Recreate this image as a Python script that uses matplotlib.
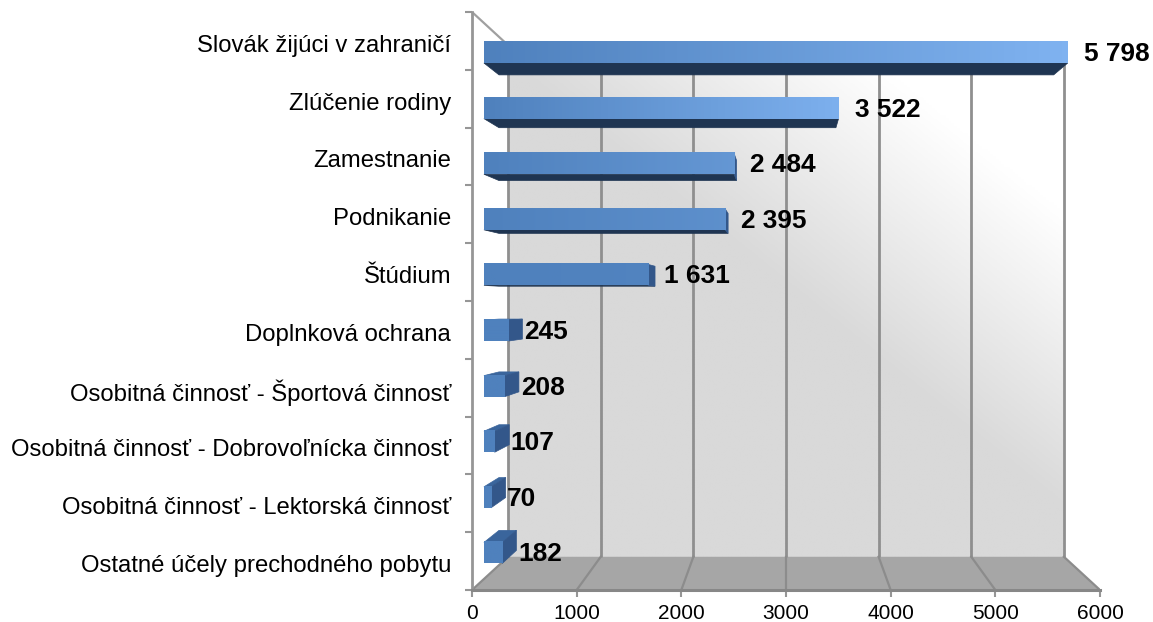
import matplotlib
matplotlib.use("Agg")
import matplotlib.pyplot as plt
from matplotlib.colors import LinearSegmentedColormap
from matplotlib.patches import Polygon
import numpy as np

plt.rcParams['font.family'] = ['Liberation Sans', 'DejaVu Sans']

kategorie = ['Slovák žijúci v zahraničí', 'Zlúčenie rodiny', 'Zamestnanie',
             'Podnikanie', 'Štúdium', 'Doplnková ochrana',
             'Osobitná činnosť - Športová činnosť',
             'Osobitná činnosť - Dobrovoľnícka činnosť',
             'Osobitná činnosť - Lektorská činnosť',
             'Ostatné účely prechodného pobytu']
hodnoty = [5798, 3522, 2484, 2395, 1631, 245, 208, 107, 70, 182]
popisky = ['5 798', '3 522', '2 484', '2 395', '1 631',
           '245', '208', '107', '70', '182']
osa_x = [0, 1000, 2000, 3000, 4000, 5000, 6000]

# how far each bar's gradient gets towards the light blue
svetlost = [1.0, 0.95, 0.45, 0.3, 0.05, 0, 0, 0, 0, 0]

W, H = 1153, 622
XMAX, NR = 6000, 10
S_STENA, S_PRED, S_ZAD = 0.885, 0.962, 0.914  # perspective scale of the planes
R0, R1 = 0.342, 0.72  # bar inside its row


def proj(v, r, s):
    # perspective towards the middle of the front plane
    return XMAX / 2 + (v - XMAX / 2) * s, NR / 2 + (r - NR / 2) * s


fig = plt.figure(figsize=(W / 100, H / 100), dpi=100)
ax = fig.add_axes([472 / W, 1 - 590 / H, 628 / W, 578 / H])

# back wall with diagonal gradient
x0, r0 = proj(0, 0, S_STENA)
x1, r1 = proj(XMAX, NR, S_STENA)
xx, yy = np.meshgrid(np.linspace(509, 1063, 200), np.linspace(44, 558, 200))
f = np.clip((xx - 530 - 1.238 * (yy - 80)) / 370, 0, 1)
sediva = LinearSegmentedColormap.from_list('stena', ['#d9d9d9', '#ffffff'])
ax.imshow(f, extent=(x0, x1, r1, r0), aspect='auto', cmap=sediva,
          vmin=0, vmax=1, zorder=1)

# floor
podlaha = [(0, NR), (XMAX, NR), proj(XMAX, NR, S_STENA), proj(0, NR, S_STENA)]
ax.add_patch(Polygon(podlaha, fc='#a6a6a6', ec='none', zorder=1))

# gridlines on wall and floor
for v in osa_x:
    bx, by = proj(v, 0, S_STENA)
    fx, fy = proj(v, NR, S_STENA)
    ax.plot([bx, fx], [by, fy], color='#8f8f8f', lw=2, zorder=2,
            solid_capstyle='butt')
    ax.plot([fx, v], [fy, NR], color='#8c8c8c', lw=1.6, zorder=2)
ax.plot(*zip((0, 0), proj(0, 0, S_STENA)), color='#a0a0a0', lw=1.6, zorder=2)

# bars
modra = LinearSegmentedColormap.from_list('bar', ['#4f81bd', '#7fb2f0'])
for i, v in enumerate(hodnoty):
    ta, tb = i + R0, i + R1
    a = proj(0, ta, S_PRED)
    b = proj(v, tb, S_PRED)
    a2 = proj(0, ta, S_ZAD)
    b2 = proj(v, tb, S_ZAD)
    if tb < NR / 2:
        ax.add_patch(Polygon([(a[0], b[1]), b, b2, (a2[0], b2[1])],
                             fc='#1f3552', ec='#1f3552', lw=0.5, zorder=3))
    if ta > NR / 2:
        ax.add_patch(Polygon([a, (b[0], a[1]), (b2[0], a2[1]), a2],
                             fc='#3a659c', ec='#3a659c', lw=0.5, zorder=3))
    if v < XMAX / 2:
        ax.add_patch(Polygon([(b[0], a[1]), b, b2, (b2[0], a2[1])],
                             fc='#33578a', ec='#33578a', lw=0.5, zorder=4))
    grad = np.linspace(0, svetlost[i], 100).reshape(1, -1)
    ax.imshow(grad, extent=(a[0], b[0], b[1], a[1]), aspect='auto', cmap=modra,
              vmin=0, vmax=1, zorder=5)
    ax.annotate(popisky[i], xy=(b[0], (a[1] + b[1]) / 2), xytext=(16, -1.5),
                textcoords=('offset pixels'), fontsize=18.9, fontweight='bold',
                va='center', ha='left', color='black', zorder=7)

ax.set_xlim(0, XMAX)
ax.set_ylim(NR, 0)

for s in ['top', 'right']:
    ax.spines[s].set_visible(False)
ax.spines['left'].set_color('#969696')
ax.spines['left'].set_linewidth(2)
ax.spines['bottom'].set_color('#878787')
ax.spines['bottom'].set_linewidth(2.2)
ax.patch.set_visible(False)

ax.set_xticks(osa_x)
ax.set_yticks(range(NR + 1))
ax.set_yticklabels([])
ax.tick_params(axis='both', which='major', color='#969696', width=1.5, length=5,
               labelsize=15, labelcolor='black')
ax.tick_params(axis='x', pad=5)
ax.set_yticks(np.arange(NR) + 0.54, minor=True)
ax.set_yticklabels(kategorie, minor=True)
ax.tick_params(axis='y', which='minor', length=0, pad=15, labelsize=17.2)

plt.savefig("out.png", dpi=100)
